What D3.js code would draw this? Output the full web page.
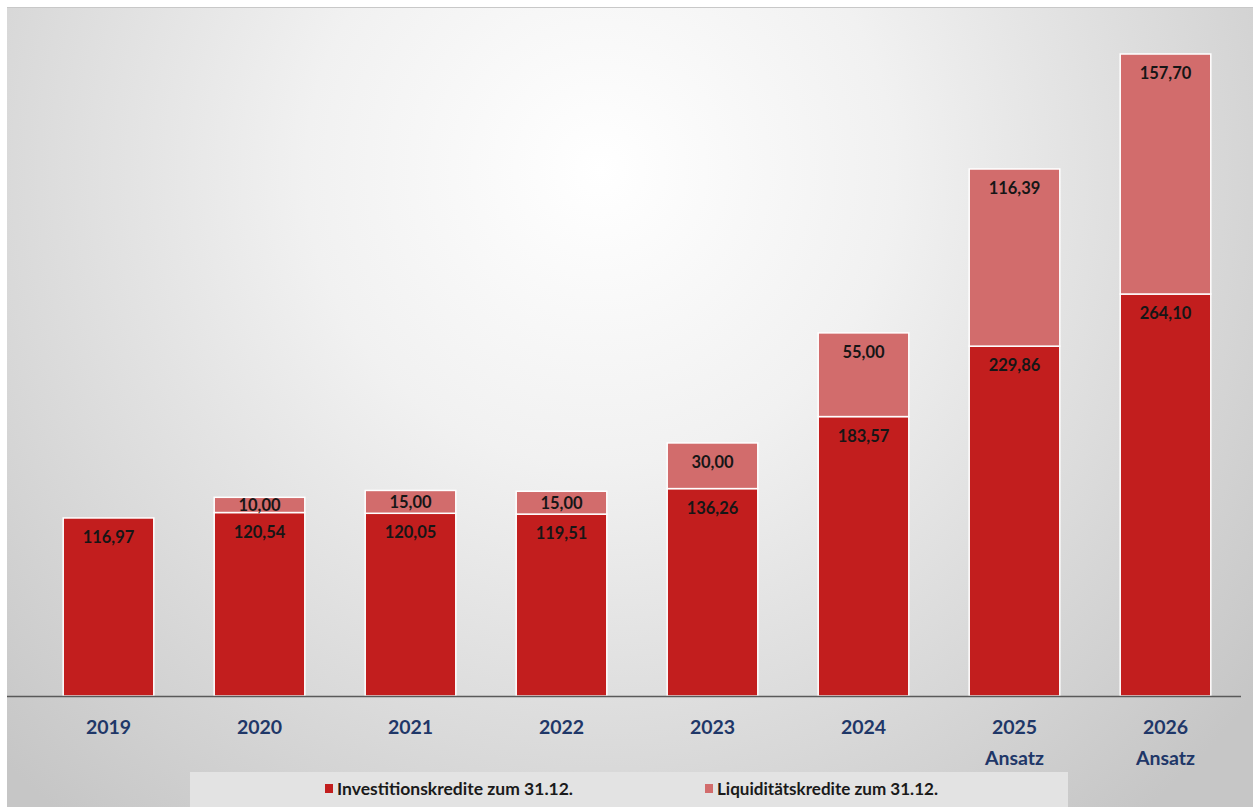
<!DOCTYPE html>
<html><head><meta charset="utf-8">
<script src="https://cdn.jsdelivr.net/npm/d3@7"></script>
<style>html,body{margin:0;padding:0;background:#fff;}svg{display:block;}</style>
</head><body>
<script>
const categories = ["2019","2020","2021","2022","2023","2024","2025","2026"];
const subLabels = ["","","","","","","Ansatz","Ansatz"];
const investitionskredite = [116.97,120.54,120.05,119.51,136.26,183.57,229.86,264.10];
const liquiditaetskredite = [0,10.00,15.00,15.00,30.00,55.00,116.39,157.70];
const seriesNames = ["Investitionskredite zum 31.12.","Liquiditätskredite zum 31.12."];
const colors = ["#c21e1e","#d26c6c"];

const W=1259,H=810;
const svg=d3.select("body").append("svg").attr("width",W).attr("height",H);
const defs=svg.append("defs");
const rg=defs.append("radialGradient").attr("id","bg").attr("gradientUnits","userSpaceOnUse")
  .attr("cx",600).attr("cy",170).attr("r",840);
rg.append("stop").attr("offset","0%").attr("stop-color","#ffffff");
rg.append("stop").attr("offset","35%").attr("stop-color","#f1f1f1");
rg.append("stop").attr("offset","100%").attr("stop-color","#c6c6c6");
svg.append("rect").attr("width",W).attr("height",H).attr("fill","#ffffff");
svg.append("rect").attr("x",7).attr("y",7).attr("width",1246).attr("height",800).attr("fill","url(#bg)");
svg.append("line").attr("x1",7).attr("x2",1253).attr("y1",7.5).attr("y2",7.5).attr("stroke","#c8c8c8");

const x=d3.scaleBand().domain(categories).range([33,1241]).paddingInner(0.4).paddingOuter(0.2);
const y=d3.scaleLinear().domain([0,421.8]).range([696,54]);

const data=categories.map((c,i)=>({c,a:investitionskredite[i],b:liquiditaetskredite[i]}));
const stack=d3.stack().keys(["a","b"])(data);
const fmt=v=>d3.format(".2f")(v).replace(".",",");

stack.forEach((layer,li)=>{
  const g=svg.append("g");
  layer.forEach((d,i)=>{
    const val=d.data[layer.key];
    if(!val) return;
    const top=y(d[1]),bot=y(d[0]);
    g.append("rect").attr("x",x(d.data.c)).attr("y",top).attr("width",x.bandwidth()).attr("height",bot-top)
      .attr("fill",colors[li]).attr("stroke","#ffffff").attr("stroke-width",1.5);
    const h=bot-top;
    g.append("text").attr("x",x(d.data.c)+x.bandwidth()/2).attr("y",top+Math.min(19,h/2))
      .attr("text-anchor","middle").attr("dominant-baseline","central")
      .attr("font-family","Lato, 'Open Sans', sans-serif").attr("font-weight","bold").attr("font-size",16.5)
      .attr("fill","#161616").text(fmt(val));
  });
});

// axis
const ax=svg.append("g").attr("transform","translate(0,696)")
  .call(d3.axisBottom(x).tickSize(0).tickPadding(0).tickFormat(""));
ax.select(".domain").remove();
svg.append("line").attr("x1",7).attr("x2",1241).attr("y1",696.5).attr("y2",696.5).attr("stroke","#595959").attr("stroke-width",1.5);
categories.forEach((c,i)=>{
  svg.append("text").attr("x",x(c)+x.bandwidth()/2).attr("y",734).attr("text-anchor","middle")
    .attr("font-family","Lato, 'Open Sans', sans-serif").attr("font-weight","bold").attr("font-size",19.5)
    .attr("fill","#1f3768").text(c);
  if(subLabels[i]) svg.append("text").attr("x",x(c)+x.bandwidth()/2).attr("y",765).attr("text-anchor","middle")
    .attr("font-family","Lato, 'Open Sans', sans-serif").attr("font-weight","bold").attr("font-size",19.5)
    .attr("fill","#1f3768").text(subLabels[i]);
});

// legend
svg.append("rect").attr("x",190).attr("y",772).attr("width",878).attr("height",35).attr("fill","#e3e3e3");
const lx=[325,705], lw=[236,221];
seriesNames.forEach((n,i)=>{
  svg.append("rect").attr("x",lx[i]).attr("y",784).attr("width",8).attr("height",9).attr("fill",colors[i]);
  svg.append("text").attr("x",lx[i]+12).attr("y",795)
    .attr("font-family","Lato, 'Open Sans', sans-serif").attr("font-weight","bold").attr("font-size",17)
    .attr("textLength",lw[i]).attr("lengthAdjust","spacingAndGlyphs")
    .attr("fill","#1a1a1a").text(n);
});
</script>
</body></html>
